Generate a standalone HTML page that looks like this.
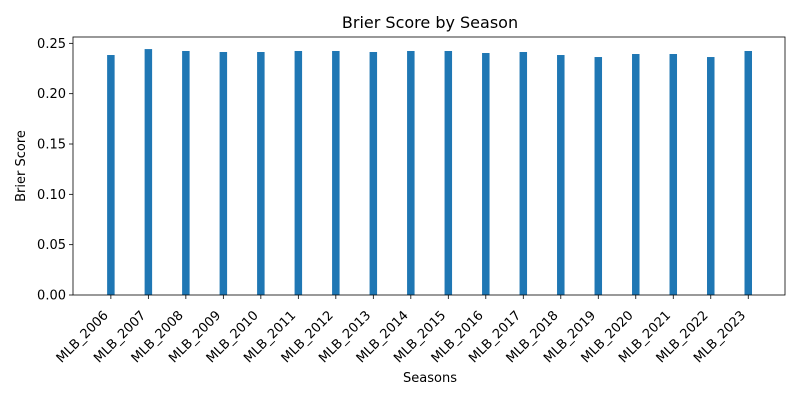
<!DOCTYPE html>
<html><head><meta charset="utf-8"><style>
body{margin:0;background:#fff;font-family:"Liberation Sans","DejaVu Sans",sans-serif}
</style></head><body>
<svg id="chart" width="800" height="400" xmlns="http://www.w3.org/2000/svg" font-family="DejaVu Sans, Liberation Sans, sans-serif">
<rect width="800" height="400" fill="#fff"/>
<text x="430" y="28" text-anchor="middle" font-size="16">Brier Score by Season</text>
<g id="plot"></g>
<text x="430" y="382" text-anchor="middle" font-size="13">Seasons</text>
<text transform="translate(25,166) rotate(-90)" text-anchor="middle" font-size="13">Brier Score</text>
</svg>
<script>
const categories=["MLB_2006","MLB_2007","MLB_2008","MLB_2009","MLB_2010","MLB_2011","MLB_2012","MLB_2013","MLB_2014","MLB_2015","MLB_2016","MLB_2017","MLB_2018","MLB_2019","MLB_2020","MLB_2021","MLB_2022","MLB_2023"];
const values=[0.2384,0.2443,0.2424,0.2414,0.2414,0.2424,0.2424,0.2414,0.2424,0.2424,0.2404,0.2414,0.2384,0.2364,0.2394,0.2394,0.2364,0.2424];
const yTicks=[0,0.05,0.10,0.15,0.20,0.25];
const yTickLabels=["0.00","0.05","0.10","0.15","0.20","0.25"];
const L=73,R=785,T=37,B=295,ns="http://www.w3.org/2000/svg";
const x=i=>L+(i+1.01)*(R-L)/18.99;
const y=v=>B-v/0.2563*(B-T);
const g=document.getElementById('plot');
function mk(t,a){const e=document.createElementNS(ns,t);for(const k in a)e.setAttribute(k,a[k]);g.appendChild(e);return e;}
categories.forEach((c,i)=>{
 const b=mk('rect',{x:x(i)-3.75,y:y(values[i]),width:7.5,height:B-y(values[i]),fill:'#1f77b4'});
 
 
 mk('line',{x1:x(i),x2:x(i),y1:B,y2:B+4,stroke:'#000','stroke-width':0.8});
 const t=mk('text',{transform:`translate(${x(i)-2},${B+21}) rotate(-45)`,'text-anchor':'end','font-size':13});
 t.textContent=c;
 
 
});
yTicks.forEach((v,i)=>{
 mk('line',{x1:L-4,x2:L,y1:y(v),y2:y(v),stroke:'#000','stroke-width':0.8});
 const t=mk('text',{x:L-7,y:y(v)+4.5,'text-anchor':'end','font-size':13});
 t.textContent=yTickLabels[i];
 
 
});
const f=mk('rect',{x:L,y:T,width:R-L,height:B-T,fill:'none',stroke:'#000','stroke-width':0.8});


</script>
</body></html>
